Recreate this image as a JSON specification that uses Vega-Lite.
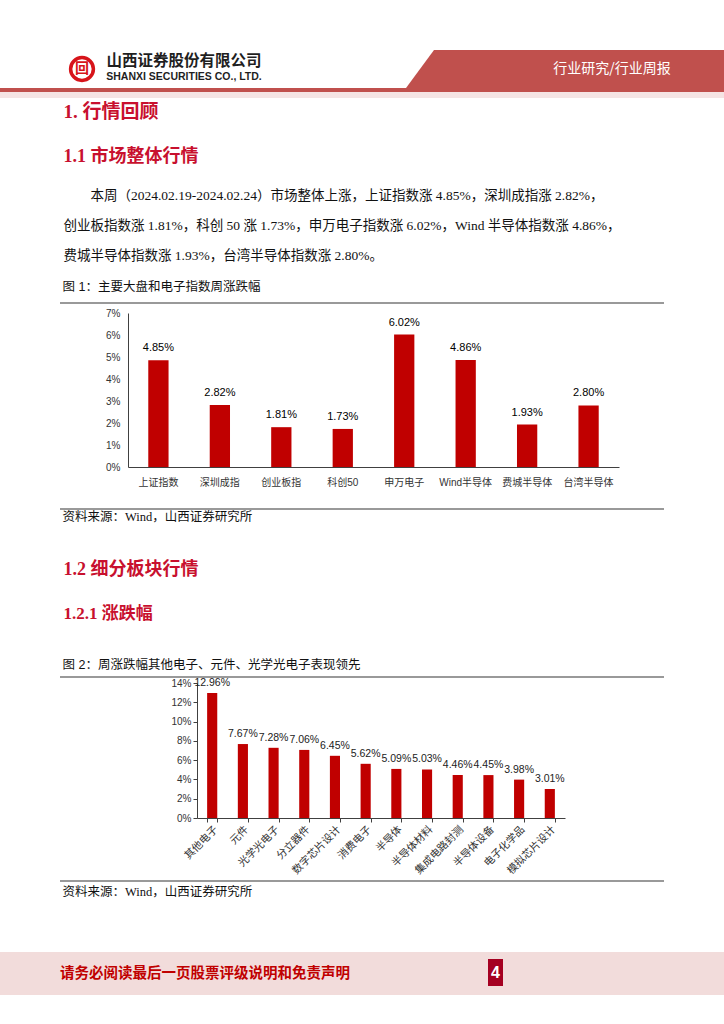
{
  "$schema": "https://vega.github.io/schema/vega-lite/v6.json",
  "background": "white",
  "padding": 0,
  "spacing": 0,
  "config": {"view": {"stroke": null}, "concat": {"spacing": 0}},
  "vconcat": [
    {"width": 724, "height": 50, "data": {"values": [{}]}, "mark": {"type": "text", "text": "", "fontSize": 0}, "encoding": {}},
    {"hconcat": [
      {"width": 68, "height": 38, "data": {"values": [{}]}, "mark": {"type": "text", "text": "", "fontSize": 0}, "encoding": {}},
      {"width": 28, "height": 38, "data": {"values": [{}]}, "layer": [
        {"mark": {"type": "point", "shape": "circle", "size": 520, "filled": false, "stroke": "#D7141A", "strokeWidth": 3.5, "opacity": 1}, "encoding": {}},
        {"mark": {"type": "text", "text": "回", "font": "Noto Sans CJK SC", "fontSize": 14, "fontWeight": "bold", "color": "#D7141A"}, "encoding": {}}
      ]},
      {"width": 7, "height": 38, "data": {"values": [{}]}, "mark": {"type": "text", "text": "", "fontSize": 0}, "encoding": {}},
      {"width": 162, "height": 38, "data": {"values": [{}]}, "layer": [
        {"mark": {"type": "text", "text": "山西证券股份有限公司", "baseline": "line-bottom", "lineHeight": 15, "font": "Noto Sans CJK SC", "fontSize": 15.5, "fontWeight": "bold", "color": "#1F1F1F"}, "encoding": {}},
        {"mark": {"type": "text", "text": "SHANXI SECURITIES CO., LTD.", "baseline": "line-top", "lineHeight": 16, "font": "Liberation Sans Narrow, Liberation Sans", "fontSize": 10.5, "fontWeight": "bold", "color": "#1F1F1F"}, "encoding": {}}
      ]},
      {"width": 141, "height": 38, "data": {"values": [{}]}, "mark": {"type": "text", "text": "", "fontSize": 0}, "encoding": {}},
      {"width": 94, "height": 38, "view": {"fill": "#C0504D", "stroke": null}, "data": {"values": [{}]}, "mark": {"type": "point", "shape": "M -1 -0.404 L -0.404 -0.404 L -1 0.404 Z", "size": 8836, "filled": true, "fill": "white", "opacity": 1, "strokeWidth": 0}, "encoding": {}},
      {"width": 224, "height": 38, "view": {"fill": "#C0504D", "stroke": null}, "data": {"values": [{}]}, "mark": {"type": "text", "text": "行业研究/行业周报", "font": "Noto Sans CJK SC", "fontSize": 14, "color": "white"}, "encoding": {}}
    ], "spacing": 0, "bounds": "flush"},
    {"width": 724, "height": 4, "view": {"fill": "#C0504D", "stroke": null}, "data": {"values": [{}]}, "mark": {"type": "text", "text": "", "fontSize": 0}, "encoding": {}},
    {"width": 724, "height": 6, "view": {"fill": "#F5E4E4", "stroke": null}, "data": {"values": [{}]}, "mark": {"type": "text", "text": "", "fontSize": 0}, "encoding": {}},
    {"hconcat": [
      {"width": 63, "height": 28, "data": {"values": [{}]}, "mark": {"type": "text", "text": "", "fontSize": 0}, "encoding": {}},
      {"width": 1, "height": 28, "data": {"values": [{}]}, "mark": {"type": "text", "text": "1. 行情回顾", "align": "left", "baseline": "middle", "font": "Liberation Serif, Noto Sans CJK SC", "fontSize": 19, "fontWeight": "bold", "color": "#C8102E"}, "encoding": {}}
    ], "spacing": 0, "bounds": "flush"},
    {"width": 724, "height": 14, "data": {"values": [{}]}, "mark": {"type": "text", "text": "", "fontSize": 0}, "encoding": {}},
    {"hconcat": [
      {"width": 63, "height": 34, "data": {"values": [{}]}, "mark": {"type": "text", "text": "", "fontSize": 0}, "encoding": {}},
      {"width": 1, "height": 34, "data": {"values": [{}]}, "mark": {"type": "text", "text": "1.1 市场整体行情", "align": "left", "baseline": "middle", "font": "Liberation Serif, Noto Sans CJK SC", "fontSize": 18, "fontWeight": "bold", "color": "#C8102E"}, "encoding": {}}
    ], "spacing": 0, "bounds": "flush"},
    {"width": 724, "height": 7, "data": {"values": [{}]}, "mark": {"type": "text", "text": "", "fontSize": 0}, "encoding": {}},
    {"hconcat": [
      {"width": 90, "height": 30, "data": {"values": [{}]}, "mark": {"type": "text", "text": "", "fontSize": 0}, "encoding": {}},
      {"width": 1, "height": 30, "data": {"values": [{}]}, "mark": {"type": "text", "text": "本周（2024.02.19-2024.02.24）市场整体上涨，上证指数涨 4.85%，深圳成指涨 2.82%，", "align": "left", "baseline": "middle", "font": "Liberation Serif, Noto Sans CJK SC", "fontSize": 13.5, "color": "#111111"}, "encoding": {}}
    ], "spacing": 0, "bounds": "flush"},
    {"hconcat": [
      {"width": 63, "height": 30, "data": {"values": [{}]}, "mark": {"type": "text", "text": "", "fontSize": 0}, "encoding": {}},
      {"width": 1, "height": 30, "data": {"values": [{}]}, "mark": {"type": "text", "text": "创业板指数涨 1.81%，科创 50 涨 1.73%，申万电子指数涨 6.02%，Wind 半导体指数涨 4.86%，", "align": "left", "baseline": "middle", "font": "Liberation Serif, Noto Sans CJK SC", "fontSize": 13.5, "color": "#111111"}, "encoding": {}}
    ], "spacing": 0, "bounds": "flush"},
    {"hconcat": [
      {"width": 63, "height": 30, "data": {"values": [{}]}, "mark": {"type": "text", "text": "", "fontSize": 0}, "encoding": {}},
      {"width": 1, "height": 30, "data": {"values": [{}]}, "mark": {"type": "text", "text": "费城半导体指数涨 1.93%，台湾半导体指数涨 2.80%。", "align": "left", "baseline": "middle", "font": "Liberation Serif, Noto Sans CJK SC", "fontSize": 13.5, "color": "#111111"}, "encoding": {}}
    ], "spacing": 0, "bounds": "flush"},
    {"width": 724, "height": 1, "data": {"values": [{}]}, "mark": {"type": "text", "text": "", "fontSize": 0}, "encoding": {}},
    {"hconcat": [
      {"width": 62, "height": 30, "data": {"values": [{}]}, "mark": {"type": "text", "text": "", "fontSize": 0}, "encoding": {}},
      {"width": 1, "height": 30, "data": {"values": [{}]}, "mark": {"type": "text", "text": "图 1：主要大盘和电子指数周涨跌幅", "align": "left", "baseline": "middle", "font": "Liberation Sans, Noto Sans CJK SC", "fontSize": 12.5, "color": "#111111"}, "encoding": {}}
    ], "spacing": 0, "bounds": "flush"},
    {"hconcat": [
      {"width": 60, "height": 2, "data": {"values": [{}]}, "mark": {"type": "text", "text": "", "fontSize": 0}, "encoding": {}},
      {"width": 604, "height": 2, "view": {"fill": "#999999", "stroke": null}, "data": {"values": [{}]}, "mark": {"type": "text", "text": "", "fontSize": 0}, "encoding": {}}
    ], "spacing": 0, "bounds": "flush"},
    {"width": 724, "height": 4, "data": {"values": [{}]}, "mark": {"type": "text", "text": "", "fontSize": 0}, "encoding": {}},
    {"hconcat": [
      {"width": 128, "height": 154, "data": {"values": [{}]}, "mark": {"type": "text", "text": "", "fontSize": 0}, "encoding": {}},
      {
        "width": 491, "height": 154,
        "data": {"values": [
          {"index": "上证指数", "change": 0.0485},
          {"index": "深圳成指", "change": 0.0282},
          {"index": "创业板指", "change": 0.0181},
          {"index": "科创50", "change": 0.0173},
          {"index": "申万电子", "change": 0.0602},
          {"index": "Wind半导体", "change": 0.0486},
          {"index": "费城半导体", "change": 0.0193},
          {"index": "台湾半导体", "change": 0.0280}
        ]},
        "encoding": {
          "x": {"field": "index", "type": "nominal", "sort": null, "scale": {"paddingInner": 0.67, "paddingOuter": 0.33},
                "axis": {"title": null, "labelAngle": 0, "ticks": false, "domainColor": "#404040", "labelFontSize": 10, "labelColor": "#333333", "labelPadding": 10, "labelFont": "Liberation Sans, Noto Sans CJK SC"}},
          "y": {"field": "change", "type": "quantitative", "scale": {"domain": [0, 0.07], "nice": false},
                "axis": {"title": null, "format": ".0%", "values": [0, 0.01, 0.02, 0.03, 0.04, 0.05, 0.06, 0.07], "grid": false, "ticks": false, "domainColor": "#404040", "labelFontSize": 10, "labelColor": "#333333", "labelPadding": 8, "labelFont": "Liberation Sans"}}
        },
        "layer": [
          {"mark": {"type": "bar", "color": "#C00000"}},
          {"mark": {"type": "text", "baseline": "bottom", "dy": -7, "fontSize": 11, "font": "Liberation Sans", "color": "#000000"},
           "encoding": {"text": {"field": "change", "type": "quantitative", "format": ".2%"}}}
        ]
      }
    ], "spacing": 0, "bounds": "flush"},
    {"width": 724, "height": 21, "data": {"values": [{}]}, "mark": {"type": "text", "text": "", "fontSize": 0}, "encoding": {}},
    {"hconcat": [
      {"width": 60, "height": 2, "data": {"values": [{}]}, "mark": {"type": "text", "text": "", "fontSize": 0}, "encoding": {}},
      {"width": 604, "height": 2, "view": {"fill": "#999999", "stroke": null}, "data": {"values": [{}]}, "mark": {"type": "text", "text": "", "fontSize": 0}, "encoding": {}}
    ], "spacing": 0, "bounds": "flush"},
    {"hconcat": [
      {"width": 62, "height": 14, "data": {"values": [{}]}, "mark": {"type": "text", "text": "", "fontSize": 0}, "encoding": {}},
      {"width": 1, "height": 14, "data": {"values": [{}]}, "mark": {"type": "text", "text": "资料来源：Wind，山西证券研究所", "align": "left", "baseline": "middle", "font": "Liberation Serif, Noto Sans CJK SC", "fontSize": 12.5, "color": "#111111"}, "encoding": {}}
    ], "spacing": 0, "bounds": "flush"},
    {"width": 724, "height": 30, "data": {"values": [{}]}, "mark": {"type": "text", "text": "", "fontSize": 0}, "encoding": {}},
    {"hconcat": [
      {"width": 63, "height": 32, "data": {"values": [{}]}, "mark": {"type": "text", "text": "", "fontSize": 0}, "encoding": {}},
      {"width": 1, "height": 32, "data": {"values": [{}]}, "mark": {"type": "text", "text": "1.2 细分板块行情", "align": "left", "baseline": "middle", "font": "Liberation Serif, Noto Sans CJK SC", "fontSize": 18, "fontWeight": "bold", "color": "#C8102E"}, "encoding": {}}
    ], "spacing": 0, "bounds": "flush"},
    {"hconcat": [
      {"width": 63, "height": 56, "data": {"values": [{}]}, "mark": {"type": "text", "text": "", "fontSize": 0}, "encoding": {}},
      {"width": 1, "height": 56, "data": {"values": [{}]}, "mark": {"type": "text", "text": "1.2.1 涨跌幅", "align": "left", "baseline": "middle", "font": "Liberation Serif, Noto Sans CJK SC", "fontSize": 17, "fontWeight": "bold", "color": "#C8102E"}, "encoding": {}}
    ], "spacing": 0, "bounds": "flush"},
    {"width": 724, "height": 12, "data": {"values": [{}]}, "mark": {"type": "text", "text": "", "fontSize": 0}, "encoding": {}},
    {"hconcat": [
      {"width": 62, "height": 22, "data": {"values": [{}]}, "mark": {"type": "text", "text": "", "fontSize": 0}, "encoding": {}},
      {"width": 1, "height": 22, "data": {"values": [{}]}, "mark": {"type": "text", "text": "图 2：周涨跌幅其他电子、元件、光学光电子表现领先", "align": "left", "baseline": "middle", "font": "Liberation Sans, Noto Sans CJK SC", "fontSize": 12.5, "color": "#111111"}, "encoding": {}}
    ], "spacing": 0, "bounds": "flush"},
    {"hconcat": [
      {"width": 60, "height": 2, "data": {"values": [{}]}, "mark": {"type": "text", "text": "", "fontSize": 0}, "encoding": {}},
      {"width": 604, "height": 2, "view": {"fill": "#999999", "stroke": null}, "data": {"values": [{}]}, "mark": {"type": "text", "text": "", "fontSize": 0}, "encoding": {}}
    ], "spacing": 0, "bounds": "flush"},
    {"hconcat": [
      {"width": 197, "height": 135, "data": {"values": [{}]}, "mark": {"type": "text", "text": "", "fontSize": 0}, "encoding": {}},
      {
        "width": 368, "height": 135,
        "data": {"values": [
          {"sector": "其他电子", "change": 0.1296},
          {"sector": "元件", "change": 0.0767},
          {"sector": "光学光电子", "change": 0.0728},
          {"sector": "分立器件", "change": 0.0706},
          {"sector": "数字芯片设计", "change": 0.0645},
          {"sector": "消费电子", "change": 0.0562},
          {"sector": "半导体", "change": 0.0509},
          {"sector": "半导体材料", "change": 0.0503},
          {"sector": "集成电路封测", "change": 0.0446},
          {"sector": "半导体设备", "change": 0.0445},
          {"sector": "电子化学品", "change": 0.0398},
          {"sector": "模拟芯片设计", "change": 0.0301}
        ]},
        "encoding": {
          "x": {"field": "sector", "type": "nominal", "sort": null, "scale": {"paddingInner": 0.67, "paddingOuter": 0.33},
                "axis": {"title": null, "labelAngle": -45, "ticks": true, "tickBand": "extent", "tickSize": 4, "tickColor": "#404040", "domainColor": "#404040", "labelFontSize": 10.5, "labelColor": "#333333", "labelPadding": 2, "labelFont": "Noto Sans CJK SC"}},
          "y": {"field": "change", "type": "quantitative", "scale": {"domain": [0, 0.14], "nice": false},
                "axis": {"title": null, "format": ".0%", "values": [0, 0.02, 0.04, 0.06, 0.08, 0.1, 0.12, 0.14], "grid": false, "ticks": true, "tickSize": 4, "tickColor": "#404040", "domainColor": "#404040", "labelFontSize": 10, "labelColor": "#333333", "labelPadding": 2, "labelFont": "Liberation Sans"}}
        },
        "layer": [
          {"mark": {"type": "bar", "color": "#C00000"}},
          {"mark": {"type": "text", "baseline": "bottom", "dy": -5, "fontSize": 10.5, "font": "Liberation Sans", "color": "#222222"},
           "encoding": {"text": {"field": "change", "type": "quantitative", "format": ".2%"}}}
        ]
      }
    ], "spacing": 0, "bounds": "flush"},
    {"width": 724, "height": 4, "data": {"values": [{}]}, "mark": {"type": "text", "text": "", "fontSize": 0}, "encoding": {}},
    {"hconcat": [
      {"width": 60, "height": 2, "data": {"values": [{}]}, "mark": {"type": "text", "text": "", "fontSize": 0}, "encoding": {}},
      {"width": 604, "height": 2, "view": {"fill": "#999999", "stroke": null}, "data": {"values": [{}]}, "mark": {"type": "text", "text": "", "fontSize": 0}, "encoding": {}}
    ], "spacing": 0, "bounds": "flush"},
    {"hconcat": [
      {"width": 62, "height": 20, "data": {"values": [{}]}, "mark": {"type": "text", "text": "", "fontSize": 0}, "encoding": {}},
      {"width": 1, "height": 20, "data": {"values": [{}]}, "mark": {"type": "text", "text": "资料来源：Wind，山西证券研究所", "align": "left", "baseline": "middle", "font": "Liberation Serif, Noto Sans CJK SC", "fontSize": 12.5, "color": "#111111"}, "encoding": {}}
    ], "spacing": 0, "bounds": "flush"},
    {"width": 724, "height": 50, "data": {"values": [{}]}, "mark": {"type": "text", "text": "", "fontSize": 0}, "encoding": {}},
    {"hconcat": [
      {"width": 55, "height": 43, "view": {"fill": "#F2DCDB", "stroke": null}, "data": {"values": [{}]}, "mark": {"type": "text", "text": "", "fontSize": 0}, "encoding": {}},
      {"width": 300, "height": 43, "view": {"fill": "#F2DCDB", "stroke": null}, "data": {"values": [{}]}, "mark": {"type": "text", "text": "请务必阅读最后一页股票评级说明和免责声明", "font": "Noto Sans CJK SC", "fontSize": 14.5, "fontWeight": "bold", "color": "#C00000"}, "encoding": {}},
      {"width": 133, "height": 43, "view": {"fill": "#F2DCDB", "stroke": null}, "data": {"values": [{}]}, "mark": {"type": "text", "text": "", "fontSize": 0}, "encoding": {}},
      {"vconcat": [
        {"width": 15, "height": 7, "view": {"fill": "#F2DCDB", "stroke": null}, "data": {"values": [{}]}, "mark": {"type": "text", "text": "", "fontSize": 0}, "encoding": {}},
        {"width": 15, "height": 27, "view": {"fill": "#A50021", "stroke": null}, "data": {"values": [{}]}, "mark": {"type": "text", "text": "4", "font": "Liberation Sans Narrow, Liberation Sans", "fontSize": 16, "fontWeight": "bold", "color": "white"}, "encoding": {}},
        {"width": 15, "height": 9, "view": {"fill": "#F2DCDB", "stroke": null}, "data": {"values": [{}]}, "mark": {"type": "text", "text": "", "fontSize": 0}, "encoding": {}}
      ], "spacing": 0, "bounds": "flush"},
      {"width": 221, "height": 43, "view": {"fill": "#F2DCDB", "stroke": null}, "data": {"values": [{}]}, "mark": {"type": "text", "text": "", "fontSize": 0}, "encoding": {}}
    ], "spacing": 0}
  ]
}
